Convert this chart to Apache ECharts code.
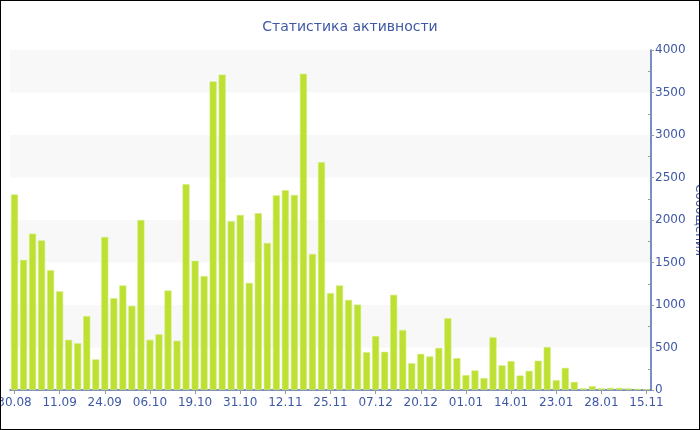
<!DOCTYPE html>
<html><head><meta charset="utf-8">
<script src="https://cdn.jsdelivr.net/npm/echarts@6/dist/echarts.min.js"></script>
<style>html,body{margin:0;padding:0;background:#fff}#c{width:700px;height:430px}#b{position:absolute;left:0;top:0;width:700px;height:430px;box-sizing:border-box;border:1px solid #000;pointer-events:none}</style>
</head><body><div id="c"></div><div id="b"></div>
<script>
const titleText = 'Статистика активности';
const yName = 'Сообщения';
const categories = ['30.08','01.09','04.09','06.09','09.09','11.09','14.09','16.09','19.09','21.09',
'24.09','26.09','29.09','01.10','03.10','06.10','08.10','11.10','13.10','16.10',
'19.10','21.10','24.10','26.10','28.10','31.10','02.11','05.11','07.11','09.11',
'12.11','14.11','17.11','19.11','22.11','25.11','27.11','30.11','02.12','04.12',
'07.12','09.12','12.12','14.12','17.12','20.12','22.12','25.12','27.12','29.12',
'01.01','04.01','06.01','09.01','11.01','14.01','16.01','18.01','20.01','21.01',
'23.01','24.01','25.01','26.01','27.01','28.01','30.01','02.02','05.02','09.02','15.11'];
const values = [2300,1530,1840,1760,1410,1160,590,550,870,360,
1800,1080,1230,990,2000,590,655,1170,580,2420,
1520,1340,3630,3710,1985,2060,1260,2080,1730,2290,
2350,2295,3720,1600,2680,1140,1230,1060,1005,445,
635,450,1120,705,315,425,395,495,845,375,
175,230,140,620,290,340,170,225,345,505,
115,260,95,20,45,20,25,25,20,15,12];

const blue = '#3f58a6';
const chart = echarts.init(document.getElementById('c'));
chart.setOption({
  animation:false,
  title:{text:titleText,left:'center',top:15,textStyle:{color:blue,fontSize:14,fontWeight:'normal',fontFamily:'DejaVu Sans'}},
  grid:{left:10,right:49,top:50,bottom:40,containLabel:false,outerBoundsMode:'none'},
  xAxis:{type:'category',data:categories,
    axisLine:{lineStyle:{color:'#4d68ad',width:1.5}},
    axisTick:{show:true,interval:4,alignWithLabel:true,length:4,lineStyle:{color:'#999'}},
    axisLabel:{interval:4,color:blue,fontSize:12,fontFamily:'DejaVu Sans',margin:7,hideOverlap:false},
    splitLine:{show:false}},
  yAxis:[{type:'value',position:'right',min:0,max:4000,interval:500,
    name:yName,nameLocation:'middle',nameRotate:-90,nameGap:42,nameMoveOverlap:false,
    nameTextStyle:{color:blue,fontSize:12,fontFamily:'DejaVu Sans'},
    axisLine:{show:true,lineStyle:{color:'#4d68ad',width:1.5}},
    axisTick:{show:true,length:3,lineStyle:{color:'#999'}},
    axisLabel:{color:blue,fontSize:12,fontFamily:'DejaVu Sans',margin:4,formatter:function(v){return String(v);}},
    splitLine:{show:false},
    splitArea:{show:true,areaStyle:{color:['rgba(255,255,255,0)','#f8f8f8']}}},
   {type:'value',position:'right',min:0,max:4000,interval:500,
    axisLine:{show:false},axisTick:{show:false,inside:true},axisLabel:{show:false},
    minorTick:{show:true,splitNumber:2,length:3,lineStyle:{color:'#999'}},
    splitLine:{show:false},splitArea:{show:false}}],
  series:[{type:'bar',data:values,barCategoryGap:'22%',yAxisIndex:0,
    itemStyle:{color:'#bde032',borderColor:'#d2ec78',borderWidth:0.6}}]
});
</script></body></html>
